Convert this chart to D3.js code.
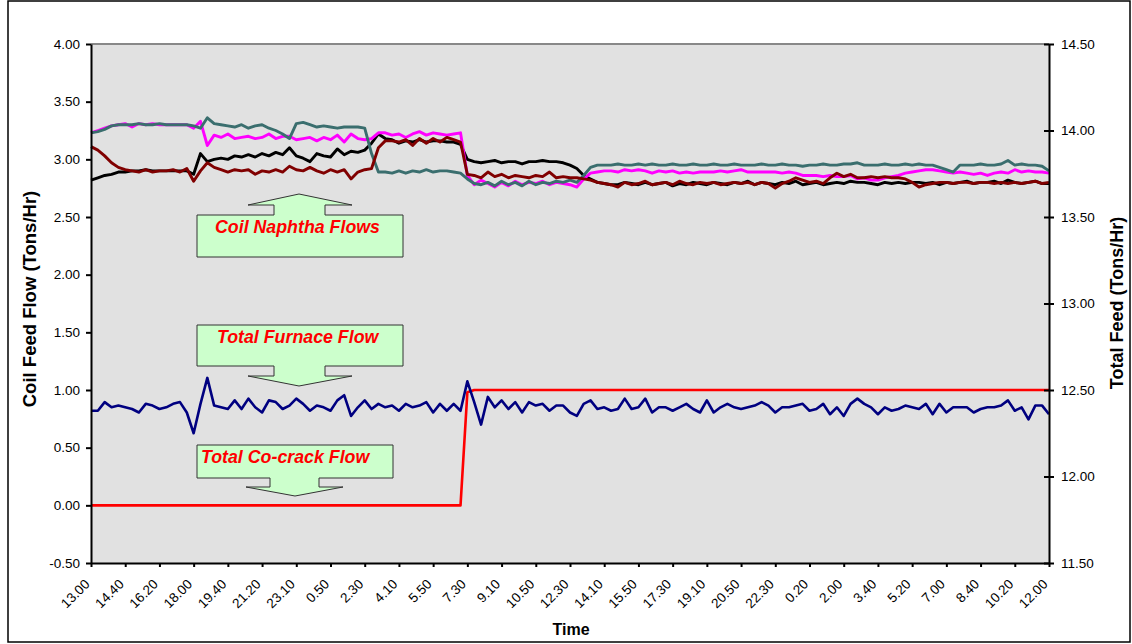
<!DOCTYPE html>
<head>
  <meta charset="utf-8">
  <title>Coil Feed Flow</title>
  <script src="https://d3js.org/d3.v7.min.js"></script>
  <style>
    body { margin: 0; background: #fff; }
    text { font-family: "Liberation Sans", Arial, sans-serif; }
  </style>
</head>

<body>
  <svg id="main-svg"></svg>

  <script type="text/javascript">
    const svg_width = 1132;
    const svg_height = 644;

    // time labels, one every 5 samples
    var timeLabels = ["13.00", "14.40", "16.20", "18.00", "19.40", "21.20", "23.10", "0.50", "2.30", "4.10",
      "5.50", "7.30", "9.10", "10.50", "12.30", "14.10", "15.50", "17.30", "19.10", "20.50",
      "22.30", "0.20", "2.00", "3.40", "5.20", "7.00", "8.40", "10.20", "12.00"];

    var leftTicks = [-0.5, 0, 0.5, 1, 1.5, 2, 2.5, 3, 3.5, 4];
    var rightTicks = [11.5, 12, 12.5, 13, 13.5, 14, 14.5];

    // coil naphtha flows (left axis)
    var coilBlack = [2.82, 2.84, 2.86, 2.87, 2.89, 2.89, 2.90, 2.90, 2.91, 2.90, 2.90, 2.90, 2.90, 2.90, 2.90, 2.87,
      3.05, 2.98, 3.00, 3.01, 3.00, 3.03, 3.02, 3.04, 3.02, 3.05, 3.03, 3.06, 3.04, 3.10, 3.03,
      3.01, 2.98, 3.05, 3.03, 3.02, 3.09, 3.04, 3.07, 3.06, 3.08, 3.14, 3.22, 3.18, 3.17, 3.14,
      3.16, 3.15, 3.17, 3.15, 3.16, 3.16, 3.15, 3.15, 3.13, 3.00, 2.98, 2.97, 2.98, 2.99, 2.97,
      2.98, 2.98, 2.96, 2.98, 2.98, 2.99, 2.98, 2.98, 2.97, 2.95, 2.92, 2.86, 2.83, 2.80, 2.79,
      2.78, 2.78, 2.80, 2.79, 2.78, 2.80, 2.78, 2.79, 2.80, 2.77, 2.79, 2.78, 2.80, 2.79, 2.78,
      2.80, 2.79, 2.78, 2.80, 2.79, 2.81, 2.78, 2.80, 2.79, 2.78, 2.80, 2.79, 2.81, 2.78, 2.79,
      2.80, 2.78, 2.79, 2.80, 2.79, 2.81, 2.80, 2.80, 2.79, 2.78, 2.80, 2.79, 2.80, 2.79, 2.80,
      2.80, 2.79, 2.80, 2.78, 2.80, 2.79, 2.80, 2.81, 2.79, 2.80, 2.80, 2.81, 2.79, 2.82, 2.80,
      2.79, 2.80, 2.81, 2.79, 2.79];

    var coilMagenta = [3.23, 3.25, 3.27, 3.29, 3.30, 3.31, 3.28, 3.31, 3.30, 3.31, 3.30, 3.30, 3.30, 3.30, 3.30, 3.27,
      3.33, 3.12, 3.21, 3.19, 3.22, 3.18, 3.19, 3.20, 3.18, 3.19, 3.22, 3.18, 3.20, 3.20, 3.17,
      3.18, 3.19, 3.16, 3.19, 3.17, 3.21, 3.15, 3.22, 3.18, 3.17, 3.18, 3.23, 3.23, 3.21, 3.22,
      3.19, 3.22, 3.24, 3.21, 3.23, 3.22, 3.21, 3.22, 3.23, 2.86, 2.78, 2.82, 2.79, 2.76, 2.80,
      2.77, 2.81, 2.78, 2.80, 2.79, 2.81, 2.78, 2.80, 2.79, 2.78, 2.76, 2.83, 2.88, 2.89, 2.90,
      2.90, 2.89, 2.91, 2.90, 2.91, 2.90, 2.88, 2.90, 2.89, 2.90, 2.88, 2.89, 2.88, 2.89, 2.89,
      2.89, 2.90, 2.89, 2.90, 2.91, 2.89, 2.89, 2.89, 2.89, 2.89, 2.88, 2.89, 2.88, 2.86, 2.86,
      2.86, 2.85, 2.86, 2.85, 2.85, 2.86, 2.83, 2.84, 2.82, 2.82, 2.84, 2.85, 2.86, 2.88, 2.89,
      2.90, 2.91, 2.91, 2.90, 2.89, 2.88, 2.89, 2.88, 2.87, 2.88, 2.86, 2.88, 2.89, 2.88, 2.91,
      2.89, 2.90, 2.89, 2.89, 2.88];

    var coilTeal = [3.23, 3.24, 3.26, 3.29, 3.30, 3.30, 3.30, 3.31, 3.30, 3.30, 3.31, 3.30, 3.30, 3.30, 3.30, 3.29,
      3.27, 3.36, 3.31, 3.30, 3.29, 3.28, 3.30, 3.27, 3.29, 3.30, 3.27, 3.25, 3.22, 3.18, 3.31,
      3.32, 3.30, 3.28, 3.29, 3.28, 3.27, 3.28, 3.28, 3.28, 3.27, 3.05, 2.89, 2.89, 2.88, 2.90,
      2.88, 2.90, 2.89, 2.91, 2.89, 2.90, 2.90, 2.89, 2.88, 2.83, 2.79, 2.78, 2.80, 2.77, 2.81,
      2.78, 2.80, 2.77, 2.81, 2.78, 2.80, 2.79, 2.81, 2.80, 2.82, 2.80, 2.86, 2.93, 2.95, 2.95,
      2.95, 2.96, 2.95, 2.95, 2.96, 2.95, 2.96, 2.95, 2.95, 2.96, 2.95, 2.95, 2.96, 2.95, 2.95,
      2.96, 2.95, 2.95, 2.96, 2.95, 2.95, 2.95, 2.96, 2.95, 2.95, 2.96, 2.95, 2.95, 2.94, 2.95,
      2.95, 2.96, 2.95, 2.95, 2.96, 2.96, 2.97, 2.95, 2.95, 2.95, 2.96, 2.95, 2.95, 2.96, 2.95,
      2.96, 2.95, 2.95, 2.93, 2.91, 2.89, 2.95, 2.95, 2.95, 2.96, 2.95, 2.95, 2.96, 2.99, 2.95,
      2.96, 2.95, 2.95, 2.94, 2.90];

    var coilDarkRed = [3.11, 3.08, 3.03, 2.97, 2.93, 2.91, 2.90, 2.89, 2.91, 2.89, 2.90, 2.90, 2.91, 2.89, 2.92, 2.81,
      2.90, 2.97, 2.93, 2.91, 2.89, 2.91, 2.90, 2.91, 2.87, 2.90, 2.89, 2.91, 2.89, 2.94, 2.91,
      2.90, 2.93, 2.90, 2.88, 2.91, 2.89, 2.91, 2.83, 2.89, 2.91, 2.92, 3.10, 3.16, 3.16, 3.15,
      3.17, 3.12, 3.18, 3.14, 3.18, 3.15, 3.19, 3.17, 3.15, 2.87, 2.86, 2.84, 2.89, 2.85, 2.87,
      2.84, 2.86, 2.85, 2.84, 2.86, 2.85, 2.89, 2.84, 2.85, 2.84, 2.84, 2.83, 2.82, 2.80, 2.79,
      2.78, 2.76, 2.80, 2.78, 2.79, 2.81, 2.78, 2.79, 2.80, 2.78, 2.81, 2.79, 2.78, 2.80, 2.79,
      2.80, 2.78, 2.79, 2.80, 2.79, 2.80, 2.78, 2.80, 2.79, 2.75, 2.79, 2.81, 2.84, 2.82, 2.80,
      2.81, 2.79, 2.84, 2.88, 2.85, 2.87, 2.84, 2.84, 2.85, 2.84, 2.85, 2.84, 2.84, 2.83, 2.80,
      2.76, 2.78, 2.79, 2.80, 2.80, 2.79, 2.80, 2.80, 2.79, 2.80, 2.80, 2.79, 2.80, 2.79, 2.80,
      2.79, 2.80, 2.81, 2.79, 2.80];

    // total co-crack flow (left axis)
    var coCrack = [0, 0, 0, 0, 0, 0, 0, 0, 0, 0, 0, 0, 0, 0, 0, 0,
      0, 0, 0, 0, 0, 0, 0, 0, 0, 0, 0, 0, 0, 0, 0,
      0, 0, 0, 0, 0, 0, 0, 0, 0, 0, 0, 0, 0, 0, 0,
      0, 0, 0, 0, 0, 0, 0, 0, 0, 0.98, 1.00, 1.00, 1.00, 1.00, 1.00,
      1.00, 1.00, 1.00, 1.00, 1.00, 1.00, 1.00, 1.00, 1.00, 1.00, 1.00, 1.00, 1.00, 1.00, 1.00,
      1.00, 1.00, 1.00, 1.00, 1.00, 1.00, 1.00, 1.00, 1.00, 1.00, 1.00, 1.00, 1.00, 1.00, 1.00,
      1.00, 1.00, 1.00, 1.00, 1.00, 1.00, 1.00, 1.00, 1.00, 1.00, 1.00, 1.00, 1.00, 1.00, 1.00,
      1.00, 1.00, 1.00, 1.00, 1.00, 1.00, 1.00, 1.00, 1.00, 1.00, 1.00, 1.00, 1.00, 1.00, 1.00,
      1.00, 1.00, 1.00, 1.00, 1.00, 1.00, 1.00, 1.00, 1.00, 1.00, 1.00, 1.00, 1.00, 1.00, 1.00,
      1.00, 1.00, 1.00, 1.00, 1.00];

    // total furnace flow (right axis)
    var totalFeed = [12.38, 12.38, 12.43, 12.40, 12.41, 12.40, 12.39, 12.37, 12.42, 12.41, 12.39, 12.40, 12.42, 12.43, 12.37, 12.25,
      12.42, 12.57, 12.41, 12.40, 12.39, 12.44, 12.39, 12.45, 12.40, 12.37, 12.44, 12.43, 12.39, 12.41, 12.45,
      12.42, 12.38, 12.41, 12.40, 12.38, 12.44, 12.47, 12.35, 12.40, 12.44, 12.39, 12.42, 12.40, 12.41, 12.38,
      12.42, 12.40, 12.41, 12.43, 12.37, 12.42, 12.38, 12.42, 12.38, 12.55, 12.43, 12.30, 12.46, 12.40, 12.44,
      12.39, 12.43, 12.37, 12.43, 12.41, 12.42, 12.38, 12.41, 12.41, 12.37, 12.35, 12.42, 12.44, 12.39, 12.40,
      12.38, 12.39, 12.45, 12.39, 12.40, 12.45, 12.37, 12.40, 12.40, 12.38, 12.40, 12.42, 12.39, 12.37, 12.44,
      12.37, 12.40, 12.42, 12.40, 12.39, 12.40, 12.41, 12.43, 12.41, 12.37, 12.40, 12.40, 12.41, 12.42, 12.38,
      12.39, 12.42, 12.36, 12.40, 12.35, 12.42, 12.45, 12.42, 12.40, 12.36, 12.40, 12.38, 12.39, 12.41, 12.40,
      12.39, 12.42, 12.36, 12.42, 12.37, 12.40, 12.40, 12.40, 12.37, 12.39, 12.40, 12.40, 12.41, 12.44, 12.38,
      12.40, 12.33, 12.41, 12.41, 12.36];

    var plot = { left: 91, right: 1049, top: 44, bottom: 563 };
    var fontFamily = '"Liberation Sans", Arial, sans-serif';

    var svg = d3.select('#main-svg')
      .attr('width', svg_width)
      .attr('height', svg_height)
      .style('display', 'block');

    svg.append('rect')
      .attr('width', svg_width).attr('height', svg_height)
      .attr('fill', '#fff');

    // outer chart border
    svg.append('rect')
      .attr('x', 8).attr('y', 1)
      .attr('width', 1122).attr('height', 641)
      .attr('fill', 'none')
      .attr('stroke', '#000')
      .attr('stroke-width', 1.5);

    var n = coilBlack.length;

    var x = d3.scaleLinear()
      .domain([0, n - 1])
      .range([plot.left, plot.right]);

    var yLeft = d3.scaleLinear()
      .domain([-0.5, 4])
      .range([plot.bottom, plot.top]);

    var yRight = d3.scaleLinear()
      .domain([11.5, 14.5])
      .range([plot.bottom, plot.top]);

    // plot area
    svg.append('rect')
      .attr('x', plot.left).attr('y', plot.top)
      .attr('width', plot.right - plot.left)
      .attr('height', plot.bottom - plot.top)
      .attr('fill', '#e1e1e1');

    svg.append('line')
      .attr('x1', plot.left).attr('x2', plot.right)
      .attr('y1', plot.top).attr('y2', plot.top)
      .attr('stroke', '#888').attr('stroke-width', 2);

    // lines
    function drawLine(values, scale, colour, width) {
      var line = d3.line()
        .x(function(d, i) { return x(i); })
        .y(function(d) { return scale(d); });
      svg.append('path')
        .datum(values)
        .attr('d', line)
        .attr('fill', 'none')
        .attr('stroke', colour)
        .attr('stroke-width', width)
        .attr('stroke-linejoin', 'round');
    }

    drawLine(coilBlack, yLeft, '#000000', 2.9);
    drawLine(coilMagenta, yLeft, '#ff00ff', 2.9);
    drawLine(coilTeal, yLeft, '#3a6e6e', 2.9);
    drawLine(coilDarkRed, yLeft, '#800000', 2.9);
    drawLine(coCrack, yLeft, '#ff0000', 2.6);
    drawLine(totalFeed, yRight, '#000080', 2.6);

    // callouts
    var callouts = [
      { label: 'Coil Naphtha Flows', tx: 215, ty: 233,
        d: 'M197,215 L274,215 L274,205 L248,205 L299,194 L352,205 L325,205 L325,215 L403,215 L403,257 L197,257 Z' },
      { label: 'Total Furnace Flow', tx: 217, ty: 343,
        d: 'M197,325 L403,325 L403,366 L325,366 L325,376 L352,376 L299,386 L248,376 L274,376 L274,366 L197,366 Z' },
      { label: 'Total Co-crack Flow', tx: 201, ty: 463,
        d: 'M197,445 L393,445 L393,478 L319,478 L319,487 L343,487 L295,496 L246,487 L270,487 L270,478 L197,478 Z' }
    ];

    var co = svg.selectAll('.callout')
      .data(callouts)
      .enter().append('g')
      .attr('class', 'callout');

    co.append('path')
      .attr('d', function(d) { return d.d; })
      .attr('fill', '#ccffcc')
      .attr('stroke', '#333')
      .attr('stroke-width', 1);

    co.append('text')
      .attr('x', function(d) { return d.tx; })
      .attr('y', function(d) { return d.ty; })
      .attr('fill', '#ff0000')
      .style('font-size', '17.8px')
      .style('font-weight', 'bold')
      .style('font-style', 'italic')
      .text(function(d) { return d.label; });

    // axes
    function fmt(d) { return d3.format('.2f')(d).replace('\u2212', '-'); }

    var leftAxis = d3.axisLeft(yLeft)
      .tickValues(leftTicks)
      .tickSize(5)
      .tickSizeOuter(0)
      .tickFormat(fmt);

    var gl = svg.append('g')
      .attr('transform', 'translate(' + plot.left + ',0)')
      .call(leftAxis);

    var rightAxis = d3.axisRight(yRight)
      .tickValues(rightTicks)
      .tickSize(5)
      .tickSizeOuter(0)
      .tickFormat(fmt);

    var gr = svg.append('g')
      .attr('transform', 'translate(' + plot.right + ',0)')
      .call(rightAxis);
    gr.selectAll('.tick line').attr('x1', -5);

    var tickIdx = timeLabels.map(function(d, i) { return i * 5; });

    var bottomAxis = d3.axisBottom(x)
      .tickValues(tickIdx)
      .tickSize(4)
      .tickSizeOuter(0)
      .tickFormat(function(d, i) { return timeLabels[i]; });

    var gb = svg.append('g')
      .attr('transform', 'translate(0,' + plot.bottom + ')')
      .call(bottomAxis);

    gb.selectAll('.tick text')
      .attr('y', 0)
      .attr('dy', 0)
      .attr('transform', 'translate(-1,22) rotate(-45)')
      .style('text-anchor', 'end');

    [gl, gr, gb].forEach(function(g) {
      g.select('.domain').attr('stroke', '#000').attr('stroke-width', 2);
      g.selectAll('.tick line').attr('stroke', '#000').attr('stroke-width', 2);
      g.selectAll('.tick text')
        .attr('fill', '#000')
        .style('font-family', fontFamily)
        .style('font-size', '13.5px');
    });
    gl.selectAll('.tick text').attr('x', -11);
    gr.selectAll('.tick text').attr('x', 12);

    // axis titles
    svg.append('text')
      .attr('transform', 'translate(36,299) rotate(-90)')
      .attr('text-anchor', 'middle')
      .style('font-size', '18.5px')
      .style('font-weight', 'bold')
      .text('Coil Feed Flow (Tons/Hr)');

    svg.append('text')
      .attr('transform', 'translate(1123,303) rotate(-90)')
      .attr('text-anchor', 'middle')
      .style('font-size', '18px')
      .style('font-weight', 'bold')
      .text('Total Feed (Tons/Hr)');

    svg.append('text')
      .attr('x', 571)
      .attr('y', 635)
      .attr('text-anchor', 'middle')
      .style('font-size', '16px')
      .style('font-weight', 'bold')
      .text('Time');
  </script>
</body>
